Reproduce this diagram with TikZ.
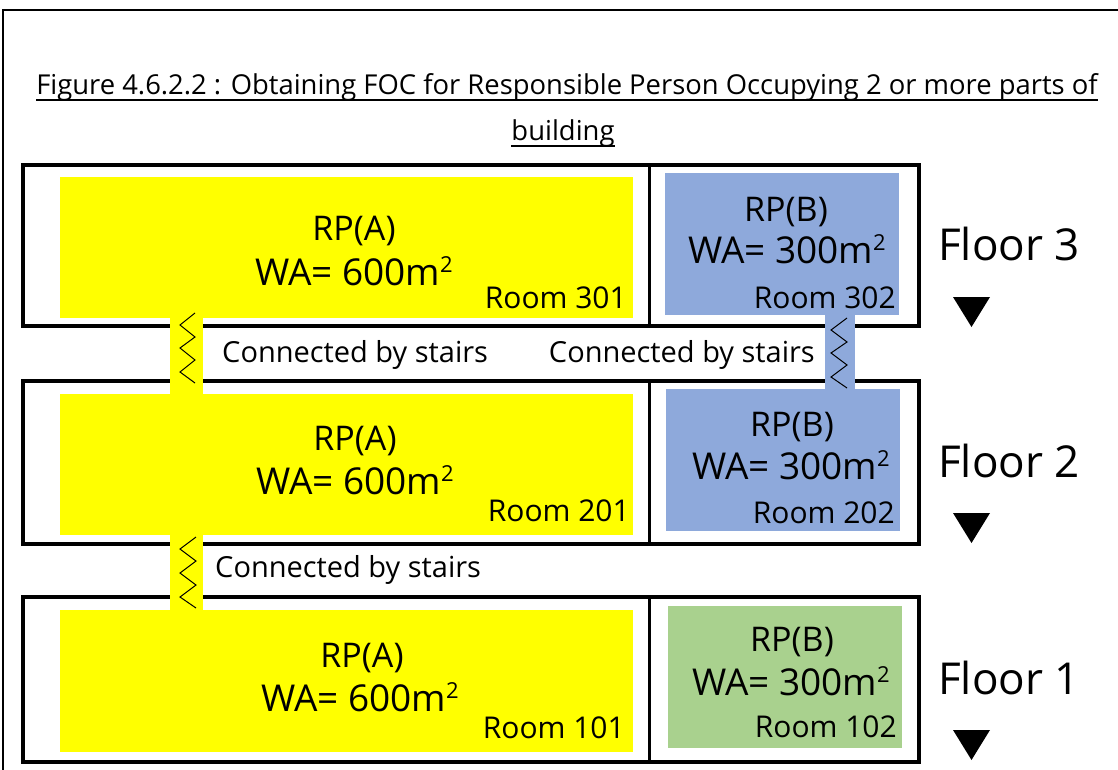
\documentclass[tikz,border=0pt]{standalone}
\usepackage{fontspec}
\setmainfont{Open Sans}
\newcommand{\sqtwo}{\raisebox{0.34em}{\fontsize{22}{22}\selectfont 2}}
\begin{document}
\begin{tikzpicture}[x=1pt,y=-1pt,
  wall/.style={draw=black,line width=4pt,inner sep=0pt,outer sep=0pt},
  room/.style={draw=none,inner sep=0pt,outer sep=0pt},
  strip/.style={draw=none,inner sep=0pt,outer sep=0pt},
  zig/.style={draw=black,line width=1pt,line join=miter},
  rp/.style={inner sep=0pt,anchor=base,font=\fontsize{34}{36}\selectfont},
  wa/.style={inner sep=0pt,anchor=base,font=\fontsize{37}{40}\selectfont},
  rn/.style={inner sep=0pt,anchor=base east,font=\fontsize{30}{32}\selectfont},
  cs/.style={inner sep=0pt,font=\fontsize{29}{32}\selectfont},
  fl/.style={inner sep=0pt,anchor=base west,font=\fontsize{44}{48}\selectfont},
  ttl/.style={inner sep=0pt,anchor=base,font=\fontsize{27.4}{30}\selectfont},
  uline/.style={draw=black,line width=1.5pt},
  tri/.style={fill=black,draw=none}]
\definecolor{yel}{HTML}{FFFF00}
\definecolor{blu}{HTML}{8EA9DB}
\definecolor{grn}{HTML}{A9D18E}
\useasboundingbox (0,0) rectangle (1118,770);
% outer frame
\draw[line width=1.6pt] (3,770) -- (3,10) -- (1118,10);
% title
\node[ttl] (t1) at (567,95) {Figure 4.6.2.2 : Obtaining FOC for Responsible Person Occupying 2 or more parts of};
\node[ttl] (t2) at (563,141) {building};
\draw[uline] ([yshift=-5pt]t1.base west) -- ([yshift=-5pt]t1.base east);
\draw[uline] ([yshift=-5pt]t2.base west) -- ([yshift=-5pt]t2.base east);
% floor boxes
\node[wall,minimum width=896pt,minimum height=161pt] (f3) at (471,245.5) {};
\node[wall,minimum width=896pt,minimum height=163pt] (f2) at (471,462.5) {};
\node[wall,minimum width=896pt,minimum height=165pt] (f1) at (471,679.5) {};
\draw[line width=3pt] (649,165) -- (649,326);
\draw[line width=3pt] (649,381) -- (649,544);
\draw[line width=3pt] (649,597) -- (649,762);
% rooms
\node[room,fill=yel,minimum width=573pt,minimum height=141pt] (r301) at (346.5,247.5) {};
\node[room,fill=blu,minimum width=234pt,minimum height=142pt] (r302) at (782,244) {};
\node[room,fill=yel,minimum width=573pt,minimum height=141pt] (r201) at (346.5,464.5) {};
\node[room,fill=blu,minimum width=234pt,minimum height=142pt] (r202) at (783,460) {};
\node[room,fill=yel,minimum width=573pt,minimum height=142pt] (r101) at (346.5,681) {};
\node[room,fill=grn,minimum width=234pt,minimum height=142pt] (r102) at (785,677) {};
% stair strips
\node[strip,fill=yel,minimum width=33pt,minimum height=77pt] (s1) at (186.5,356.5) {};
\node[strip,fill=blu,minimum width=30pt,minimum height=74pt] (s2) at (840,352) {};
\node[strip,fill=yel,minimum width=33pt,minimum height=75pt] (s3) at (186.5,572.5) {};
% zigzags
\draw[zig] (195,313) -- (180,325) -- (195,337) -- (180,348) -- (195,360) -- (180,372) -- (195,383);
\draw[zig] (847,318) -- (831,330) -- (847,342) -- (831,353) -- (847,365) -- (831,377) -- (847,388);
\draw[zig] (196,537) -- (180,549) -- (196,561) -- (180,573) -- (196,585) -- (180,597) -- (196,608);
% stair labels
\node[cs,anchor=base west] (c1) at (222,362) {Connected by stairs};
\node[cs,anchor=base east] (c2) at (815,362) {Connected by stairs};
\node[cs,anchor=base west] (c3) at (215,577) {Connected by stairs};
% room texts floor 3
\node[rp] (a3) at (354,240) {RP(A)};
\node[wa] (wa3) at (354,285) {WA= 600m\sqtwo};
\node[rn] (n301) at (627,308) {Room 301};
\node[rp] (b3) at (786,221) {RP(B)};
\node[wa] (wb3) at (787,263) {WA= 300m\sqtwo};
\node[rn] (n302) at (896,308) {Room 302};
% floor 2
\node[rp] (a2) at (355,450) {RP(A)};
\node[wa] (wa2) at (355,494) {WA= 600m\sqtwo};
\node[rn] (n201) at (630,521) {Room 201};
\node[rp] (b2) at (792,436) {RP(B)};
\node[wa] (wb2) at (791,479) {WA= 300m\sqtwo};
\node[rn] (n202) at (895,523) {Room 202};
% floor 1
\node[rp] (a1) at (362,667) {RP(A)};
\node[wa] (wa1) at (360,711) {WA= 600m\sqtwo};
\node[rn] (n101) at (625,738) {Room 101};
\node[rp] (b1) at (792,651) {RP(B)};
\node[wa] (wb1) at (791,695) {WA= 300m\sqtwo};
\node[rn] (n102) at (897,737) {Room 102};
% floor labels
\node[fl] (l3) at (938,260) {Floor 3};
\node[fl] (l2) at (938,477) {Floor 2};
\node[fl] (l1) at (938,694) {Floor 1};
\fill[tri] (953,297) -- (990,297) -- (971.5,327) -- cycle;
\fill[tri] (953,513) -- (990,513) -- (971.5,543) -- cycle;
\fill[tri] (953,730) -- (990,730) -- (971.5,760) -- cycle;
\end{tikzpicture}
\end{document}
